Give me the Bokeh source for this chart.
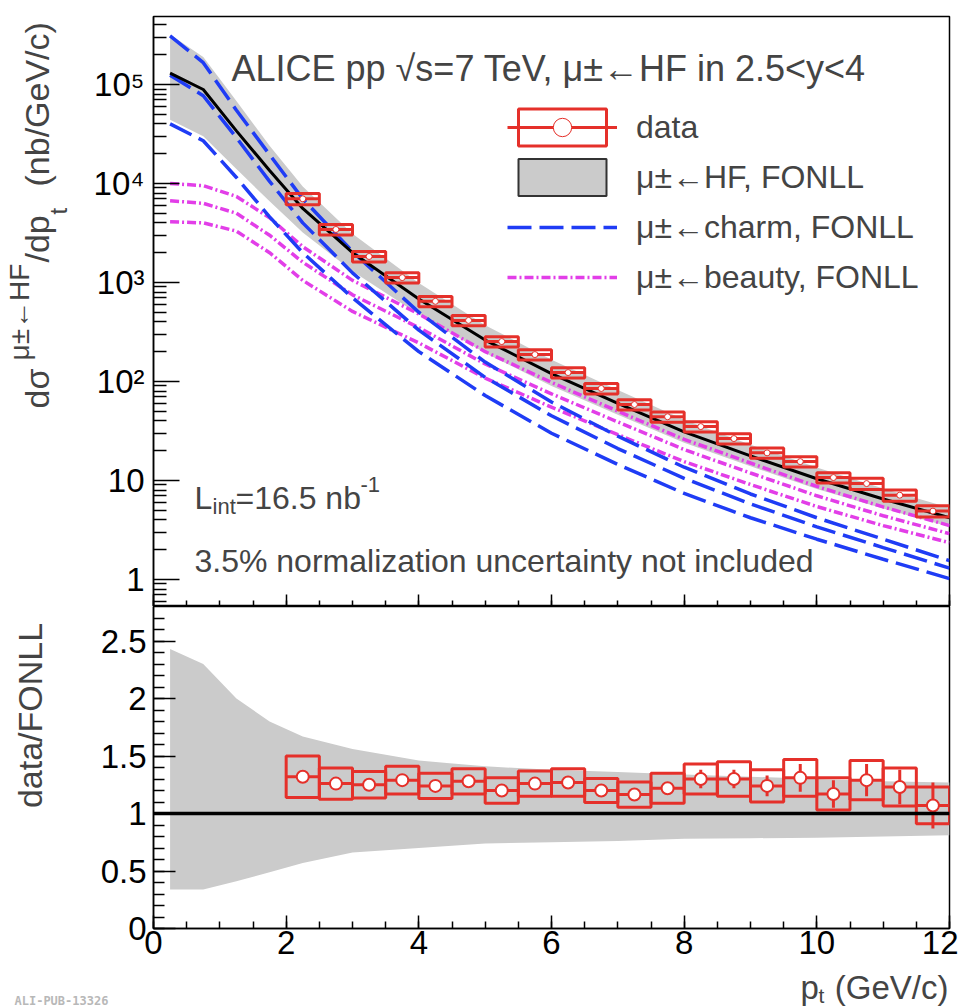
import math
from bokeh.plotting import figure
from bokeh.models import Range1d, FixedTicker, Label, Legend, LegendItem, Span, LinearAxis
from bokeh.layouts import column, row
from bokeh.embed import file_html
from bokeh.resources import INLINE

FONT = "Liberation Sans"
RED = "#e5302a"
BLUE = "#1f3cf5"
MAGENTA = "#e23ee8"
GRAY = "#cbcbcb"

# ---------------- data ----------------
pt_theory = [0.25, 0.75, 1.25, 1.75, 2.25, 3, 4, 5, 6, 7, 8, 9, 10, 11, 12]
hf_central = [1.3e5, 8.9e4, 3.4e4, 1.35e4, 5.6e3, 2.0e3, 680, 262, 120, 60, 31, 17.7, 10.4, 6.5, 4.2]
hf_upper = [3.2e5, 1.9e5, 6.8e4, 2.4e4, 9.3e3, 3.1e3, 990, 370, 166, 82, 41, 23, 13.5, 8.3, 5.3]
hf_lower = [4.4e4, 3.0e4, 1.4e4, 6.6e3, 3.2e3, 1.3e3, 476, 194, 90, 46, 24, 13.9, 8.2, 5.2, 3.4]
charm_central = [1.24e5, 7.7e4, 2.9e4, 1.05e4, 4.0e3, 1.25e3, 330, 110, 45, 21, 10.5, 5.8, 3.4, 2.1, 1.3]
charm_upper = [3.1e5, 1.66e5, 5.5e4, 1.95e4, 7.0e3, 2.05e3, 500, 157, 62, 28, 13.6, 7.3, 4.2, 2.55, 1.55]
charm_lower = [4.0e4, 2.7e4, 1.15e4, 4.6e3, 2.0e3, 700, 200, 72, 30, 14.5, 7.4, 4.2, 2.55, 1.6, 1.02]
beauty_central = [6.7e3, 6.3e3, 5.0e3, 3.0e3, 1.6e3, 750, 350, 150, 75, 39, 20.5, 11.9, 7.0, 4.4, 2.9]
beauty_upper = [1.0e4, 9.5e3, 7.4e3, 4.5e3, 2.3e3, 1.05e3, 480, 200, 98, 50, 26, 15, 8.7, 5.4, 3.5]
beauty_lower = [4.1e3, 4.0e3, 3.3e3, 2.0e3, 1.05e3, 510, 245, 108, 55, 29, 15.5, 9.1, 5.45, 3.5, 2.35]
ratio_band_upper = [2.43, 2.30, 2.0, 1.80, 1.67, 1.56, 1.46, 1.41, 1.38, 1.36, 1.34, 1.32, 1.30, 1.28, 1.27]
ratio_band_lower = [0.34, 0.34, 0.41, 0.49, 0.57, 0.66, 0.70, 0.74, 0.75, 0.76, 0.78, 0.785, 0.79, 0.80, 0.81]

pt_data = [2.25, 2.75, 3.25, 3.75, 4.25, 4.75, 5.25, 5.75, 6.25, 6.75,
           7.25, 7.75, 8.25, 8.75, 9.25, 9.75, 10.25, 10.75, 11.25, 11.75]
bin_half = [0.25] * 20
data_xsec = [7000, 3430, 1830, 1120, 645, 414, 253, 187, 123, 85,
             58.5, 44, 35, 26.5, 19, 15.5, 10.7, 9.3, 7.1, 4.9]
data_sys_rel = [0.13, 0.12, 0.12, 0.12, 0.12, 0.12, 0.12, 0.12, 0.12, 0.12,
                0.12, 0.12, 0.12, 0.12, 0.12, 0.12, 0.12, 0.13, 0.13, 0.13]
ratio = [1.32, 1.26, 1.25, 1.29, 1.24, 1.28, 1.20, 1.26, 1.27, 1.20,
         1.165, 1.22, 1.30, 1.30, 1.24, 1.31, 1.17, 1.29, 1.23, 1.07]
ratio_sys = [0.18, 0.135, 0.115, 0.12, 0.11, 0.11, 0.11, 0.11, 0.12, 0.105,
             0.11, 0.13, 0.13, 0.15, 0.14, 0.16, 0.14, 0.17, 0.165, 0.16]
ratio_stat = [0.01, 0.01, 0.01, 0.01, 0.01, 0.015, 0.015, 0.02, 0.02, 0.03,
              0.04, 0.04, 0.08, 0.08, 0.09, 0.12, 0.12, 0.14, 0.15, 0.2]

x_ticks = [0, 2, 4, 6, 8, 10, 12]
x_minor = [0.5 * i for i in range(25)]
log_ticks = [1, 10, 100, 1000, 10000, 100000]
log_tick_labels = ["1", "10", "10²", "10³", "10⁴", "10⁵"]
ratio_ticks = [0, 0.5, 1, 1.5, 2, 2.5]
ratio_tick_labels = ["0", "0.5", "1", "1.5", "2", "2.5"]

x_lo = [p - h for p, h in zip(pt_data, bin_half)]
x_hi = [p + h for p, h in zip(pt_data, bin_half)]

# ---------------- geometry (page pixels) ----------------
STRIP_W = 72          # left strip holding the rotated axis titles
MAIN_W = 886          # width of the two data panels
TOP_H = 606
BOT_H = 362
FOOT_H = 40
LEFT_H = TOP_H + BOT_H


def style_axis(ax):
    ax.axis_line_width = 1.5
    ax.major_tick_line_width = 1.5
    ax.minor_tick_line_width = 1.5
    ax.major_tick_out = 0
    ax.minor_tick_out = 0
    ax.major_label_text_font = FONT
    ax.major_label_text_font_size = "33px"
    ax.major_label_text_color = "black"


def style_fig(fig):
    for ax in fig.axis:
        style_axis(ax)
    fig.grid.visible = False
    fig.outline_line_color = "black"
    fig.outline_line_width = 1.5
    fig.background_fill_color = "white"
    fig.border_fill_color = "white"


def text_strip(w, h):
    f = figure(width=w, height=h, x_range=Range1d(0, w), y_range=Range1d(0, h),
               x_axis_location=None, y_axis_location=None, min_border=0,
               output_backend="svg", toolbar_location=None)
    f.grid.visible = False
    f.outline_line_color = None
    f.background_fill_color = "white"
    f.border_fill_color = "white"
    return f


x_range = Range1d(0, 12)

# ---------------- top panel ----------------
top = figure(width=MAIN_W, height=TOP_H, x_range=x_range, y_range=Range1d(0.533, 4.86e5),
             y_axis_type="log", output_backend="svg", toolbar_location=None,
             min_border_left=81, min_border_right=9, min_border_top=16, min_border_bottom=0)
style_fig(top)
top.xaxis.ticker = FixedTicker(ticks=[], minor_ticks=x_ticks)
top.xaxis.minor_tick_in = 12
top.xaxis.major_label_standoff = 0
ax2 = LinearAxis(ticker=FixedTicker(ticks=[], minor_ticks=x_minor))
style_axis(ax2)
ax2.minor_tick_in = 6
ax2.major_label_standoff = 0
ax2.axis_line_alpha = 0
top.add_layout(ax2, "below")

minor_log = [m * 10 ** e for e in range(-1, 6) for m in range(2, 10) if 0.533 <= m * 10 ** e <= 4.86e5]
top.yaxis.ticker = FixedTicker(ticks=log_ticks, minor_ticks=minor_log)
top.yaxis.major_label_overrides = {float(t): s for t, s in zip(log_ticks, log_tick_labels)}
top.yaxis.major_tick_in = 26
top.yaxis.minor_tick_in = 13
top.yaxis.major_label_standoff = 9

band = top.varea(x=pt_theory, y1=hf_lower, y2=hf_upper, fill_color=GRAY)
for ys in (beauty_upper, beauty_lower):
    top.line(pt_theory, ys, line_color=MAGENTA, line_width=3.5, line_dash="9 3 2 3")
r_beauty = top.line(pt_theory, beauty_central, line_color=MAGENTA, line_width=3.5, line_dash="9 3 2 3")
for ys in (charm_upper, charm_lower):
    top.line(pt_theory, ys, line_color=BLUE, line_width=3.5, line_dash="24 8")
r_charm = top.line(pt_theory, charm_central, line_color=BLUE, line_width=3.5, line_dash="24 8")
top.line(pt_theory, hf_central, line_color="black", line_width=3)

d_bot = [v * (1 - s) for v, s in zip(data_xsec, data_sys_rel)]
d_top = [v * (1 + s) for v, s in zip(data_xsec, data_sys_rel)]
r_box = top.quad(left=x_lo, right=x_hi, bottom=d_bot, top=d_top, fill_alpha=0,
                 line_color=RED, line_width=3)
r_hbar = top.segment(x0=x_lo, x1=x_hi, y0=data_xsec, y1=data_xsec, line_color=RED, line_width=3)
r_mark = top.scatter(pt_data, data_xsec, marker="circle", size=6, fill_color="white",
                     line_color=RED, line_width=1)
nan = float("nan")
r_hf_leg = top.quad(left=[nan], right=[nan], bottom=[nan], top=[nan], fill_color=GRAY,
                    line_color="#333333", line_width=2)

legend = Legend(items=[
    LegendItem(label="data", renderers=[r_box, r_hbar, r_mark]),
    LegendItem(label="μ±←HF, FONLL", renderers=[band, r_hf_leg]),
    LegendItem(label="μ±←charm, FONLL", renderers=[r_charm]),
    LegendItem(label="μ±←beauty, FONLL", renderers=[r_beauty]),
], location=(354, 306), glyph_width=110, glyph_height=46, label_height=46, spacing=4,
    label_standoff=19, label_text_font=FONT, label_text_font_size="32px",
    padding=0, margin=0, border_line_alpha=0, background_fill_alpha=0)
top.add_layout(legend)

top.add_layout(Label(x=1.176, y=1.45e5, text="ALICE pp  √s=7 TeV, μ±←HF in 2.5<y<4",
                     text_font=FONT, text_font_size="36px", text_baseline="alphabetic"))
top.add_layout(Label(x=0.618, y=6.58, text="L", text_font=FONT, text_font_size="32px",
                     text_baseline="alphabetic"))
top.add_layout(Label(x=0.890, y=5.46, text="int", text_font=FONT, text_font_size="22px",
                     text_baseline="alphabetic"))
top.add_layout(Label(x=1.236, y=6.58, text="=16.5 nb", text_font=FONT, text_font_size="32px",
                     text_baseline="alphabetic"))
top.add_layout(Label(x=3.119, y=9.12, text="-1", text_font=FONT, text_font_size="22px",
                     text_baseline="alphabetic"))
top.add_layout(Label(x=0.618, y=1.52, text="3.5% normalization uncertainty not included",
                     text_font=FONT, text_font_size="32px", text_baseline="alphabetic"))

# ---------------- ratio panel ----------------
bot = figure(width=MAIN_W, height=BOT_H, x_range=x_range, y_range=Range1d(0, 2.80),
             output_backend="svg", toolbar_location=None,
             min_border_left=81, min_border_right=9, min_border_top=0, min_border_bottom=40)
style_fig(bot)
bot.xaxis.ticker = FixedTicker(ticks=x_ticks, minor_ticks=x_minor)
bot.xaxis.major_tick_in = 13
bot.xaxis.minor_tick_in = 7
bot.xaxis.major_label_standoff = 2
bot.yaxis.ticker = FixedTicker(ticks=ratio_ticks, minor_ticks=[i * 0.1 for i in range(0, 29)])
bot.yaxis.major_label_overrides = {float(t): s for t, s in zip(ratio_ticks, ratio_tick_labels)}
bot.yaxis.major_tick_in = 22
bot.yaxis.minor_tick_in = 11
bot.yaxis.major_label_standoff = 7

bot.varea(x=pt_theory, y1=ratio_band_lower, y2=ratio_band_upper, fill_color=GRAY)
bot.add_layout(Span(location=1, dimension="width", line_color="black", line_width=3.5))
r_lo = [r - s for r, s in zip(ratio, ratio_sys)]
r_hi = [r + s for r, s in zip(ratio, ratio_sys)]
bot.quad(left=x_lo, right=x_hi, bottom=r_lo, top=r_hi, fill_alpha=0, line_color=RED, line_width=3)
bot.segment(x0=x_lo, x1=x_hi, y0=ratio, y1=ratio, line_color=RED, line_width=3)
st_lo = [r - s for r, s in zip(ratio, ratio_stat)]
st_hi = [r + s for r, s in zip(ratio, ratio_stat)]
bot.segment(x0=pt_data, x1=pt_data, y0=st_lo, y1=st_hi, line_color=RED, line_width=3)
bot.scatter(pt_data, ratio, marker="circle", size=12, fill_color="white", line_color=RED,
            line_width=2)

# ---------------- left strip: rotated axis titles ----------------
left = text_strip(STRIP_W, LEFT_H)
ROT = math.pi / 2


def ltext(txt, page_x, page_y, size, align="left"):
    left.add_layout(Label(x=page_x, y=LEFT_H - page_y, text=txt, angle=ROT, text_font=FONT,
                          text_font_size=size, text_baseline="middle", text_align=align))


ltext("dσ", 36, 408, "34px")
ltext("μ±←HF", 19, 360, "28px")
ltext("/dp", 36, 262, "34px")
ltext("t", 58, 214, "24px")
ltext("(nb/GeV/c)", 36, 186, "34px")
ltext("data/FONLL", 29, 715, "34px", align="center")

# ---------------- footer strip: x title and figure id ----------------
foot = text_strip(STRIP_W + MAIN_W, FOOT_H)
FOOT_TOP = LEFT_H


def ftext(txt, page_x, page_y, size, align="left", font=FONT, **kw):
    foot.add_layout(Label(x=page_x, y=FOOT_TOP + FOOT_H - page_y, text=txt, text_font=font,
                          text_font_size=size, text_baseline="middle", text_align=align, **kw))


ftext("p", 800, 987, "33px")
ftext("t", 818, 995, "21px")
ftext("(GeV/c)", 948, 987, "33px", align="right")
ftext("ALI-PUB-13326", 14, 1000, "12px", font="DejaVu Sans Mono", text_font_style="bold",
      text_color="#b8b8b8")

layout = column(row(left, column(top, bot, spacing=0), spacing=0), foot, spacing=0)
open("out.html", "w").write(file_html(layout, INLINE))
